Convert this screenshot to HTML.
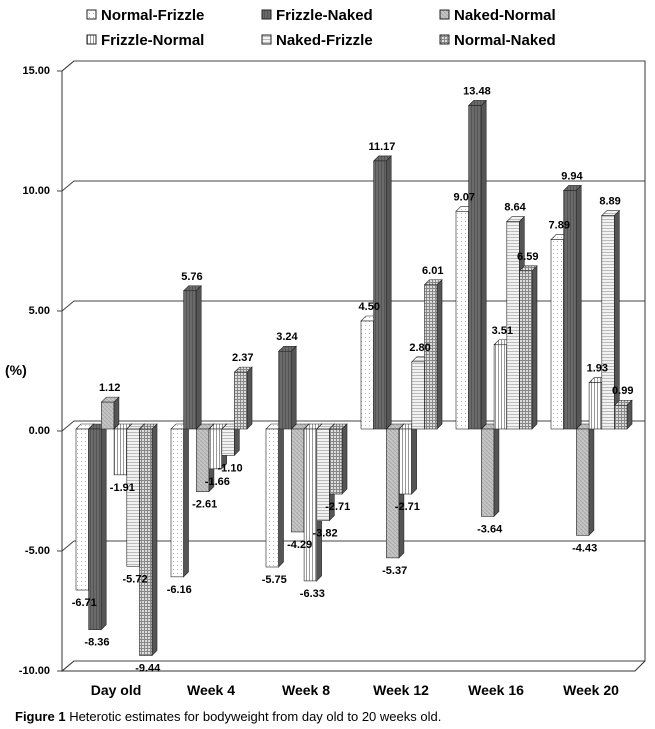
<!DOCTYPE html>
<html><head><meta charset="utf-8"><style>
body{margin:0;background:#fff;width:655px;height:729px;overflow:hidden;font-family:"Liberation Sans",Arial,sans-serif}
svg{display:block}
</style></head><body>
<svg id="chart" width="655" height="729">
<defs>
<pattern id="p0" width="4" height="4" patternUnits="userSpaceOnUse"><rect width="4" height="4" fill="#fff"/><rect x="1" y="1" width="1" height="1" fill="#bbb"/></pattern>
<pattern id="p1" width="3" height="3" patternUnits="userSpaceOnUse"><rect width="3" height="3" fill="#6a6a6a"/><rect width="1" height="3" fill="#555"/></pattern>
<pattern id="p2" width="4" height="4" patternUnits="userSpaceOnUse"><rect width="4" height="4" fill="#c4c4c4"/><path d="M0,0L4,4" stroke="#aaa" stroke-width="1"/></pattern>
<pattern id="p3" width="3" height="3" patternUnits="userSpaceOnUse"><rect width="3" height="3" fill="#fff"/><rect width="1" height="3" fill="#999"/></pattern>
<pattern id="p4" width="3" height="3" patternUnits="userSpaceOnUse"><rect width="3" height="3" fill="#f2f2f2"/><rect width="3" height="1" fill="#bbb"/></pattern>
<pattern id="p5" width="3" height="3" patternUnits="userSpaceOnUse"><rect width="3" height="3" fill="#ddd"/><rect width="1" height="3" fill="#888"/><rect width="3" height="1" fill="#888"/></pattern>
</defs>
<g id="frame"></g><g id="bars"></g><g id="labels"></g>
<text x="5" y="375" font-size="14" font-weight="bold">(%)</text>
<text x="15" y="721" font-size="13"><tspan font-weight="bold">Figure 1</tspan> Heterotic estimates for bodyweight from day old to 20 weeks old.</text>
</svg>
<script>
const categories=["Day old","Week 4","Week 8","Week 12","Week 16","Week 20"];
const seriesNames=["Normal-Frizzle","Frizzle-Naked","Naked-Normal","Frizzle-Normal","Naked-Frizzle","Normal-Naked"];
const normalFrizzle=[-6.71,-6.16,-5.75,4.50,9.07,7.89];
const frizzleNaked=[-8.36,5.76,3.24,11.17,13.48,9.94];
const nakedNormal=[1.12,-2.61,-4.29,-5.37,-3.64,-4.43];
const frizzleNormal=[-1.91,-1.66,-6.33,-2.71,3.51,1.93];
const nakedFrizzle=[-5.72,-1.10,-3.82,2.80,8.64,8.89];
const normalNaked=[-9.44,2.37,-2.71,6.01,6.59,0.99];
const yTicks=[15,10,5,0,-5,-10];
const series=[normalFrizzle,frizzleNaked,nakedNormal,frizzleNormal,nakedFrizzle,normalNaked];
const NS="http://www.w3.org/2000/svg";
const y=v=>429-24*v;
const x=(ci,si)=>76+95*ci+12.7*si;
const DX=5,DY=5,W=12.5,BX=12,BY=10;
function mk(tag,attrs,parent){const e=document.createElementNS(NS,tag);for(const k in attrs)e.setAttribute(k,attrs[k]);parent.appendChild(e);return e;}
const frame=document.getElementById('frame'),bars=document.getElementById('bars'),labels=document.getElementById('labels');
// walls
let e=mk('path',{d:`M62,${y(15)+2} L62,${y(-10)+2} L${62+BX},${y(-10)+2-BY} L645,${y(-10)+2-BY} L645,${y(15)+2-BY} L${62+BX},${y(15)+2-BY} Z`,fill:'none',stroke:'#333','stroke-width':1},frame);

yTicks.forEach(t=>{
 const g=mk('path',{d:`M57,${y(t)+2} L62,${y(t)+2} L${62+BX},${y(t)+2-BY} L645,${y(t)+2-BY}`,fill:'none',stroke:'#444','stroke-width':1},frame);
 
 const tx=mk('text',{x:50,y:y(t)+5,'text-anchor':'end','font-size':11,'font-weight':'bold'},frame);tx.textContent=t.toFixed(2);
 
});
// floor
e=mk('path',{d:`M62,${y(-10)+2} L635,${y(-10)+2} L645,${y(-10)+2-BY}`,fill:'none',stroke:'#333'},frame);

categories.forEach((c,ci)=>{
 const t=mk('text',{x:76+95*ci+40,y:695,'text-anchor':'middle','font-size':14,'font-weight':'bold'},labels);t.textContent=c;
 
 series.forEach((s,si)=>{
  const v=s[ci],x0=x(ci,si),y0=y(0),y1=y(v),top=Math.min(y0,y1),bot=Math.max(y0,y1);
  const g=mk('g',{},bars);
  
  
  mk('path',{d:`M${x0+W},${top} L${x0+W+DX},${top-DY} L${x0+W+DX},${bot-DY} L${x0+W},${bot} Z`,fill:'#555',stroke:'#222','stroke-width':0.6},g);
  mk('path',{d:`M${x0},${top} L${x0+DX},${top-DY} L${x0+W+DX},${top-DY} L${x0+W},${top} Z`,fill:`url(#p${si})`,stroke:'#222','stroke-width':0.6},g);
  mk('rect',{x:x0,y:top,width:W,height:bot-top,fill:`url(#p${si})`,stroke:'#222','stroke-width':0.6},g);
  const ly=v>=0?y1-11:y1+16;
  const l=mk('text',{x:x0+W/2+2,y:ly,'text-anchor':'middle','font-size':11,'font-weight':'bold'},labels);l.textContent=v.toFixed(2);
  
 });
});
// legend
const lx=[87,262,440];
seriesNames.forEach((n,i)=>{
 const col=i%3,row=Math.floor(i/3),ly=row?45:20;
 const g=mk('g',{},labels);
 
 
 mk('rect',{x:lx[col],y:ly-10,width:9,height:9,fill:`url(#p${i})`,stroke:'#222','stroke-width':1},g);
 const t=mk('text',{x:lx[col]+14,y:ly,'font-size':15,'font-weight':'bold'},g);t.textContent=n;
});
</script>
</body></html>
